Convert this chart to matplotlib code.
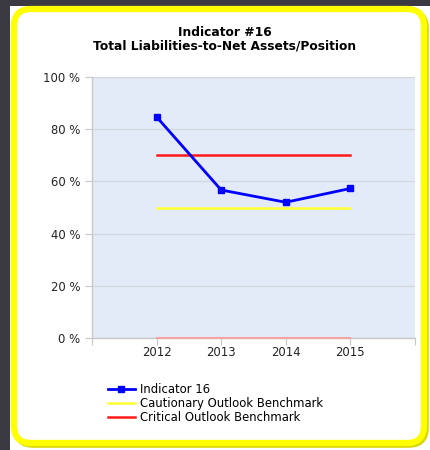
import matplotlib
matplotlib.use("Agg")
import matplotlib.pyplot as plt
from matplotlib.patches import FancyBboxPatch, Rectangle

years = ["2012", "2013", "2014", "2015"]
indicator = [84.7, 56.7, 52.0, 57.3]
cautionary = [50, 50, 50, 50]
critical = [70, 70, 70, 70]
zero_line = [0, 0, 0, 0]

W, H = 431, 450
fig = plt.figure(figsize=(W / 100, H / 100), dpi=100)
fig.patch.set_facecolor("white")

def px(x, y, w, h):
  # pixel box (top-left origin) -> figure fraction
  return (x / W, 1 - (y + h) / H, w / W, h / H)

# dark strips on top and left
fig.patches.append(Rectangle((0, 1 - 6 / H), 1, 6 / H, transform=fig.transFigure,
                             facecolor="#3b3a42", edgecolor="none", zorder=0))
fig.patches.append(Rectangle((0, 0), 10 / W, 1, transform=fig.transFigure,
                             facecolor="#3b3a42", edgecolor="none", zorder=0))

# yellow rounded frame with a soft shadow
bx, by, bw, bh = px(14, 9, 410, 434)
shadow = FancyBboxPatch((bx + 2 / W, by - 2 / H), bw, bh, boxstyle="round,pad=0,rounding_size=0.04",
                        transform=fig.transFigure, facecolor="none",
                        edgecolor="#d6d600", linewidth=4, zorder=1, mutation_aspect=W / H)
frame = FancyBboxPatch((bx, by), bw, bh, boxstyle="round,pad=0,rounding_size=0.04",
                       transform=fig.transFigure, facecolor="white",
                       edgecolor="#ffff00", linewidth=4.5, zorder=1, mutation_aspect=W / H)
fig.patches.append(shadow)
fig.patches.append(frame)

ax = fig.add_axes([92 / W, 1 - 338 / H, (415 - 92) / W, (338 - 77) / H])
ax.set_zorder(3)
ax.set_facecolor("#e4ebf8")
x = list(range(len(years)))

ax.plot(x, zero_line, color="#f4a3a3", linewidth=1.5, zorder=3, clip_on=False)
ax.plot(x, cautionary, color="#ffff33", linewidth=1.8, zorder=3, label="Cautionary Outlook Benchmark")
ax.plot(x, critical, color="#ff1a1a", linewidth=1.8, zorder=3, label="Critical Outlook Benchmark")
ax.plot(x, indicator, color="#0000ff", linewidth=2, marker="s", markersize=5,
        zorder=4, label="Indicator 16")

ax.set_xlim(-1, 4)
ax.set_ylim(0, 100)
ax.set_yticks([0, 20, 40, 60, 80, 100])
ax.set_yticklabels(["%d %%" % v for v in [0, 20, 40, 60, 80, 100]])
ax.set_xticks([-1, 0, 1, 2, 3, 4])
ax.set_xticklabels([""] + years + [""])
ax.grid(axis="y", color="#d4d8e0", linewidth=1)
ax.set_axisbelow(True)
for s in ["top", "right"]:
  ax.spines[s].set_visible(False)
for s in ["left", "bottom"]:
  ax.spines[s].set_color("#c8c8c8")
  ax.spines[s].set_linewidth(1)
ax.tick_params(axis="both", colors="#c8c8c8", labelcolor="#222222", labelsize=8.4, length=5)
ax.tick_params(axis="x", pad=1)

fig.text(0.522, 1 - 33 / H, "Indicator #16", ha="center", va="center",
         fontsize=8.8, fontweight="bold")
fig.text(0.522, 1 - 46 / H, "Total Liabilities-to-Net Assets/Position", ha="center",
         va="center", fontsize=8.8, fontweight="bold")

h, l = ax.get_legend_handles_labels()
order = [2, 0, 1]
leg = fig.legend([h[i] for i in order], [l[i] for i in order], loc="upper left",
                 bbox_to_anchor=(103 / W, 1 - 378 / H), frameon=False, fontsize=8.4,
                 handlelength=2.3, labelspacing=0.1, borderaxespad=0, handletextpad=0.5)
leg.set_zorder(3)

fig.savefig("out.png", dpi=100)
